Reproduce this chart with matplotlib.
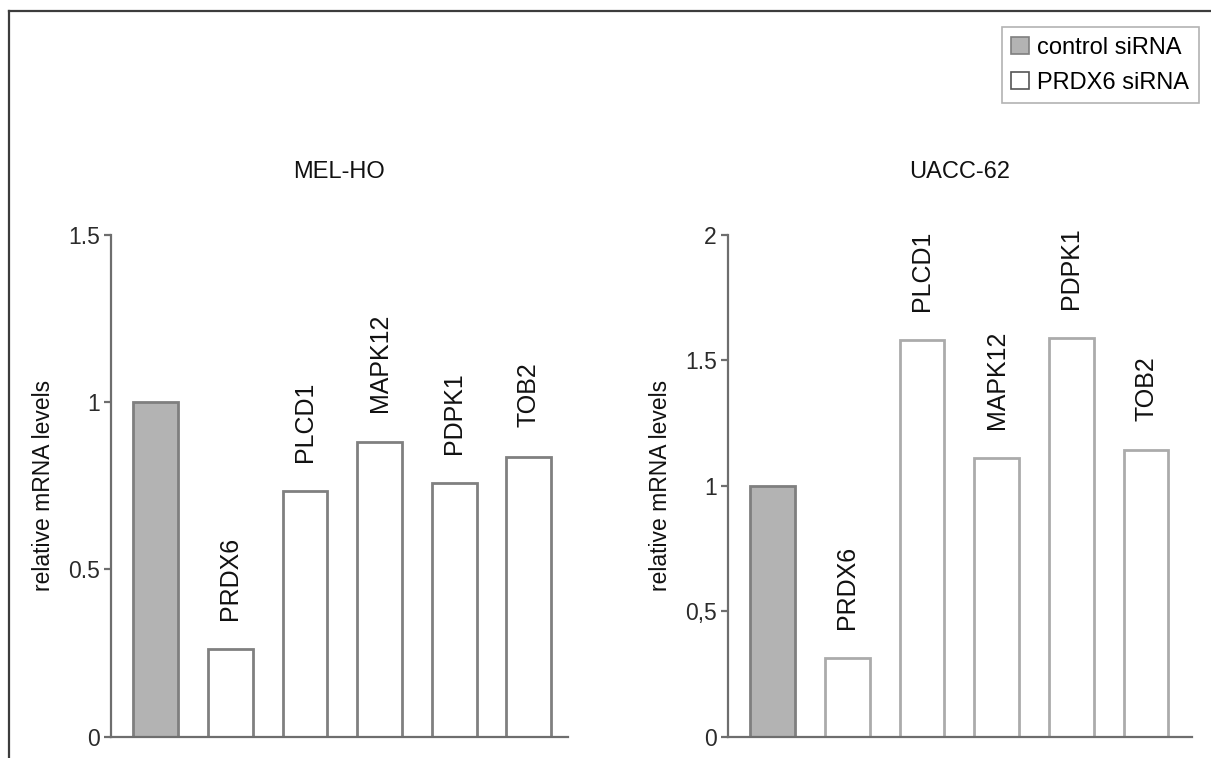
import matplotlib
matplotlib.use("Agg")
import matplotlib.pyplot as plt
from matplotlib.lines import Line2D
from matplotlib.patches import Patch

plt.rcParams["font.family"] = ["Liberation Sans", "DejaVu Sans"]

# data
genes = ["control", "PRDX6", "PLCD1", "MAPK12", "PDPK1", "TOB2"]
melHoValues = [1.0, 0.262, 0.735, 0.882, 0.759, 0.837]
uaccValues = [1.0, 0.313, 1.58, 1.109, 1.589, 1.142]
melHoTicks = [0, 0.5, 1, 1.5]
melHoTickLabels = ["0", "0.5", "1", "1.5"]
uaccTicks = [0, 0.5, 1, 1.5, 2]
uaccTickLabels = ["0", "0,5", "1", "1.5", "2"]

controlFill = "#b3b3b3"
controlEdge = "#7f7f7f"
axisColor = "#6e6e6e"
textColor = "#2b2b2b"

fig = plt.figure(figsize=(12.11, 7.58), dpi=100)


def DrawPanel(ax, values, ticks, tickLabels, titleText, edgeColor, xRight, labelX):
    xs = list(range(len(values)))
    faces = [controlFill] + ["white"] * (len(values) - 1)
    edges = [controlEdge] + [edgeColor] * (len(values) - 1)
    ax.bar(xs, values, width=0.6, color=faces, edgecolor=edges, linewidth=2)
    # gene names above the siRNA bars
    for xPos, value, name in zip(xs[1:], values[1:], genes[1:]):
        ax.annotate(name, (xPos, value), xytext=(0, 21), textcoords="offset points",
                    rotation=90, ha="center", va="bottom", fontsize=18, color="#111111")
    ax.set_ylim(0, ticks[-1])
    ax.set_xlim(-0.6, xRight)
    ax.set_yticks(ticks)
    ax.set_yticklabels(tickLabels)
    ax.set_xticks([])
    for side in ["top", "right"]:
        ax.spines[side].set_visible(False)
    for side in ["left", "bottom"]:
        ax.spines[side].set_color(axisColor)
        ax.spines[side].set_linewidth(1.6)
    ax.tick_params(axis="y", direction="out", length=5, width=1.6, color=axisColor,
                   labelsize=16.5, labelcolor=textColor, pad=3)
    ax.set_ylabel("relative mRNA levels", fontsize=16.5, color="#111111")
    ax.yaxis.set_label_coords(labelX, 0.5)
    ax.text(0.5, 1.125, titleText, transform=ax.transAxes, ha="center", va="center",
            fontsize=17, color="#111111")


axLeft = fig.add_axes([0.0917, 0.0282, 0.377, 0.662])
DrawPanel(axLeft, melHoValues, melHoTicks, melHoTickLabels, "MEL-HO", "#808080", 5.52, -0.123)

axRight = fig.add_axes([0.601, 0.0282, 0.383, 0.662])
DrawPanel(axRight, uaccValues, uaccTicks, uaccTickLabels, "UACC-62", "#ababab", 5.61, -0.12)

# legend box at top right
handles = [
    Patch(facecolor=controlFill, edgecolor=controlEdge, linewidth=1.2, label="control siRNA"),
    Patch(facecolor="white", edgecolor="#555555", linewidth=1.2, label="PRDX6 siRNA"),
]
leg = fig.legend(handles=handles, loc="upper right", bbox_to_anchor=(0.99, 0.964),
                 fontsize=17, frameon=True, fancybox=False, borderaxespad=0,
                 handlelength=0.75, handleheight=0.75, handletextpad=0.35,
                 borderpad=0.4, labelspacing=0.55)
leg.get_frame().set_edgecolor("#a0a0a0")
leg.get_frame().set_linewidth(1.2)

# outer frame (top and left edges)
fig.add_artist(Line2D([9 / 1211, 1], [1 - 11 / 758, 1 - 11 / 758], color="#3c3c3c", linewidth=1.6))
fig.add_artist(Line2D([9 / 1211, 9 / 1211], [0, 1 - 11 / 758], color="#3c3c3c", linewidth=1.6))

fig.savefig("out.png", dpi=100)
plt.close(fig)
